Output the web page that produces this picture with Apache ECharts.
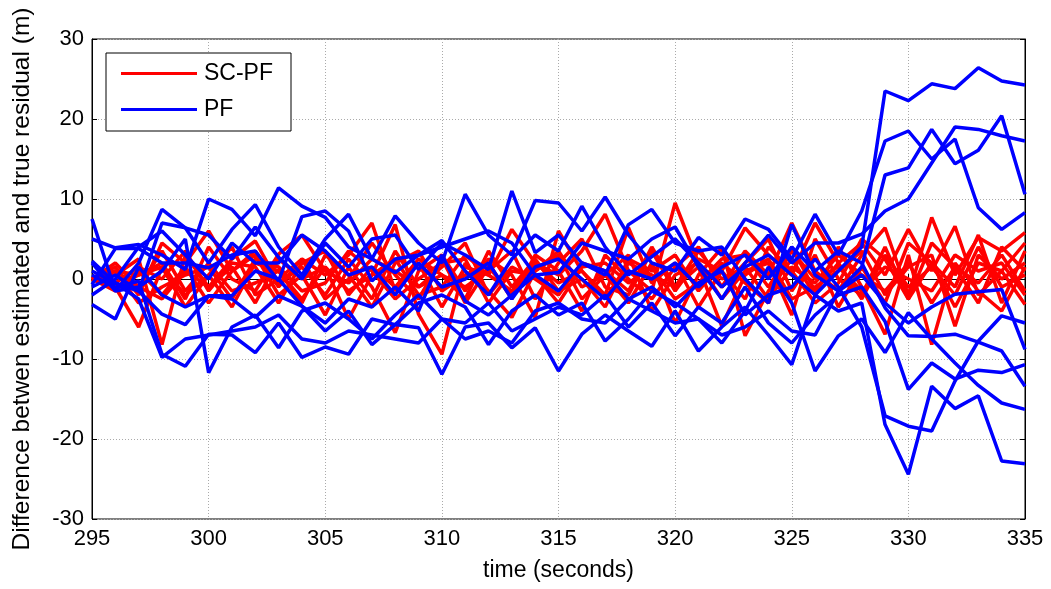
<!DOCTYPE html>
<html>
<head>
<meta charset="utf-8">
<script src="https://cdn.jsdelivr.net/npm/echarts@6/dist/echarts.min.js"></script>
<style>
html,body{margin:0;padding:0;background:#fff;}
#chart{width:1051px;height:589px;}
</style>
</head>
<body>
<div id="chart"></div>
<script>
// time axis (seconds)
const timeSec = [295,296,297,298,299,300,301,302,303,304,305,306,307,308,309,310,311,312,313,314,315,316,317,318,319,320,321,322,323,324,325,326,327,328,329,330,331,332,333,334,335];

// SC-PF runs (red)
const scpf01 = [0,1.5,-2.0,4.5,2.0,6.0,1.0,3.5,-1.0,2.5,0.5,3.0,7.0,-1.5,2.0,-3.5,1.5,0.5,6.2,2.0,0.5,3.5,8.1,1.0,-1.5,9.5,2.0,-1.0,3.5,0.5,7.0,1.0,-1.5,3.0,6.4,-2.0,7.7,0.5,5.2,3.5,5.8];
const scpf02 = [0,-1.0,-6.0,1.5,-2.0,0.5,-3.5,2.0,1.0,-2.5,1.5,-5.0,0.5,6.8,-4.4,-9.4,2.0,-1.5,-4.8,1.0,3.0,-2.5,0.5,-3.0,2.0,-5.5,0.5,3.9,-7.1,-1.5,2.5,-2.0,4.0,-1.0,-6.9,3.0,-8.2,2.0,-1.5,-4.0,1.5];
const scpf03 = [0,0.5,2.5,-8.2,3.0,-1.0,2.5,4.75,-0.5,1.5,-2.0,2.5,-1.0,-6.7,1.0,3.0,-1.5,2.5,0.5,-4.8,6.0,1.0,-2.0,6.4,-0.5,2.0,-3.5,1.0,6.4,3.0,0.5,7.0,2.0,4.5,0.5,6.2,1.0,6.6,-2.0,1.0,-3.2];
const scpf04 = [0,1.0,0.5,2.0,-2.5,4.0,0.0,-1.5,3.1,5.5,1.0,-0.5,2.5,1.0,-1.0,1.5,4.5,-2.0,1.5,0.0,-2.0,2.0,1.0,-1.5,4.0,-1.0,1.5,-5.9,0.5,2.5,-2.5,-1.0,1.0,3.5,-2.0,1.5,3.0,-5.9,3.0,0.0,2.0];
const scpf05 = [0,-1.5,1.0,-2.0,1.5,-3.0,1.0,3.0,-2.0,0.5,-4.5,1.5,-2.5,3.5,-1.0,0.5,-2.5,3.5,-1.0,2.5,-1.5,0.0,-3.5,2.5,1.0,3.0,-1.5,2.0,-0.5,-3.0,4.0,-1.5,2.0,-2.5,3.0,-1.0,1.5,-2.0,4.0,-1.0,0.5];
const scpf06 = [0,2.0,-1.0,3.5,-1.5,2.0,-1.5,-0.5,1.0,-3.0,3.0,0.5,-3.5,2.0,3.5,-1.5,0.5,2.0,-2.5,3.0,1.0,-4.0,3.0,0.0,-2.5,1.5,4.0,-1.0,2.0,5.0,-1.5,3.0,-3.5,1.5,-3.0,4.5,2.0,-1.0,5.5,-3.0,3.5];
const scpf07 = [0,-0.5,1.5,0.0,3.5,-1.5,2.0,1.5,-3.0,2.0,3.5,-2.0,1.5,-1.0,2.5,0.5,-1.0,1.0,3.5,-2.5,2.0,5.0,-1.0,-2.0,3.5,-1.5,2.5,1.0,-2.5,4.0,1.0,-3.0,-0.5,5.0,2.5,-2.5,4.5,1.5,-0.5,3.0,-1.5];
const scpf08 = [0,1.0,-3.0,-1.0,0.5,1.5,-2.5,2.5,1.5,-1.5,-0.5,3.5,1.0,-2.5,0.0,2.0,2.5,-3.0,1.0,0.5,-3.0,1.5,2.0,-0.5,1.5,-2.5,-0.5,2.5,3.0,-1.0,3.5,0.0,1.5,-1.5,1.5,0.0,-1.5,3.0,1.0,2.0,-2.0];
const scpf09 = [0,-1.0,0.5,1.5,-3.5,0.5,4.0,-2.0,0.0,2.5,-2.5,0.0,4.5,0.5,-2.5,2.5,-3.0,1.5,-2.0,1.0,3.5,-1.0,0.5,3.0,-4.0,0.5,2.0,-2.5,1.0,2.0,-4.5,5.0,0.0,-2.0,4.0,-2.5,2.0,-3.5,2.0,1.0,4.5];
const scpf10 = [0,0.5,-1.0,-2.5,1.0,-1.0,1.5,-3.0,2.5,0.0,1.5,-1.5,0.5,2.5,-2.0,-1.0,3.0,0.5,-1.5,2.0,-0.5,1.0,-2.5,2.0,0.5,-1.0,3.5,0.0,1.5,-2.5,1.5,-0.5,3.0,0.5,-1.5,2.0,-3.0,1.5,-3.0,4.0,1.0];

// PF runs (blue)
const pf01 = [7.5,-1.5,2.0,8.7,6.4,2.0,6.2,9.3,4.0,0.5,5.0,8.1,2.5,0.8,3.0,4.8,1.0,-2.0,2.5,5.5,3.5,9.1,4.0,0.5,2.8,5.0,2.0,-1.0,1.5,3.0,0.5,-2.0,1.0,4.0,23.5,22.3,24.4,23.8,26.4,24.75,24.25];
const pf02 = [5.0,3.9,4.3,3.0,1.2,10.0,8.7,5.4,11.4,9.1,7.7,4.0,2.5,7.9,4.5,2.0,10.6,5.5,3.0,9.8,9.5,6.0,10.25,5.5,2.0,1.0,5.2,3.0,7.5,6.2,2.5,8.1,3.0,8.5,17.25,18.5,15.0,17.5,8.9,6.2,8.3];
const pf03 = [2.25,-0.5,-1.5,7.0,6.4,5.5,2.5,6.5,2.7,0.0,4.5,1.5,5.0,5.5,1.2,4.5,3.0,1.2,11.0,3.3,5.5,2.0,0.5,6.8,8.7,4.5,3.5,4.0,0.0,-3.0,6.8,0.5,-1.5,1.5,13.0,13.9,18.7,14.4,16.1,20.4,10.6];
const pf04 = [-0.7,3.8,3.8,2.0,2.0,1.4,3.0,3.5,-0.25,7.8,8.5,6.0,-0.25,2.5,3.0,4.0,5.0,6.0,4.5,0.5,0.8,4.5,3.5,2.5,5.0,6.5,1.5,-2.5,2.0,5.5,2.0,4.5,4.5,5.6,8.5,10.0,14.5,19.0,18.7,17.9,17.25];
const pf05 = [-3.2,-5.0,1.5,-2.0,-3.5,-2.1,-2.1,1.0,0.0,-3.4,-5.5,-2.5,-3.5,-1.0,-4.0,3.0,-2.75,-4.5,-2.0,0.5,-1.5,2.0,1.0,-2.5,-1.0,-3.5,-0.5,1.0,-4.5,-2.0,-1.0,2.5,-1.0,-6.0,-17.1,-18.4,-19.0,-12.75,-7.75,-4.6,-5.5];
const pf06 = [0.5,-1.1,-0.25,-9.4,-10.9,-6.9,-7.0,-9.2,-5.5,-9.8,-8.5,-9.4,-5.0,-5.7,-6.1,-11.9,-6.0,-5.5,-8.6,-6.1,-11.5,-6.9,-4.5,-6.5,-8.4,-4.0,-9.0,-6.0,-3.5,-7.0,-10.7,-2.0,-4.0,-3.0,-18.2,-24.4,-13.4,-16.2,-14.6,-22.75,-23.1];
const pf07 = [-1.0,0.5,-1.5,-4.4,-5.7,-2.1,-2.5,-4.8,-2.1,-3.4,-6.5,-4.0,-8.2,-5.7,-3.0,-2.0,-3.5,-8.2,-4.0,-2.0,-4.5,-3.0,-7.75,-5.0,-1.5,-3.0,-5.0,-8.0,-4.0,1.5,-3.0,-11.5,-7.1,-5.0,-9.2,-4.2,-7.5,-10.5,-13.3,-15.5,-16.3];
const pf08 = [2.0,-1.5,-1.0,1.0,5.0,-11.7,-6.0,-4.5,-8.6,-4.0,-3.0,-5.0,-7.5,-4.5,-2.0,-5.0,-5.5,-3.0,-6.5,-5.0,-3.5,-4.5,-2.0,-6.0,-3.0,-7.1,-3.5,-5.5,-1.0,-5.5,-8.0,-4.5,-2.0,-1.0,-5.3,-13.8,-10.5,-12.5,-11.4,-11.7,-10.7];
const pf09 = [-2.0,0.0,4.0,6.0,3.0,0.0,4.5,2.0,2.0,5.5,3.5,0.5,1.5,-2.0,2.0,-1.0,0.0,2.0,-2.5,1.5,2.5,0.0,-2.5,1.0,0.0,2.0,-1.0,1.5,3.0,0.0,4.0,1.0,3.5,2.0,-3.6,-7.1,-7.2,-6.9,-7.9,-9.0,-13.4];
const pf10 = [1.0,-0.5,-2.5,-9.8,-7.5,-7.0,-6.5,-6.0,-4.5,-7.5,-8.0,-6.5,-7.0,-7.5,-8.0,-5.0,-7.5,-6.5,-8.0,-4.0,-3.0,-5.0,-5.5,-2.5,-4.0,-5.5,-5.0,-7.0,-6.0,-4.0,-6.5,-7.0,-1.5,0.5,-3.0,-5.5,-3.5,-1.9,-1.6,-1.3,-8.8];

const scpfRuns = [scpf01,scpf02,scpf03,scpf04,scpf05,scpf06,scpf07,scpf08,scpf09,scpf10];
const pfRuns = [pf01,pf02,pf03,pf04,pf05,pf06,pf07,pf08,pf09,pf10];

const FONT = 'Liberation Sans, Arial, Helvetica, sans-serif';
const RED = '#ff0000', BLUE = '#0000ff';

function pairs(vals){ return timeSec.map((t,i)=>[t, vals[i]]); }

const series = [];
scpfRuns.forEach(r => series.push({
  name:'SC-PF', type:'line', data:pairs(r), symbol:'none', xAxisIndex:0, yAxisIndex:0,
  lineStyle:{color:RED, width:3.5}, itemStyle:{color:RED}, z:2
}));
pfRuns.forEach(r => series.push({
  name:'PF', type:'line', data:pairs(r), symbol:'none', xAxisIndex:0, yAxisIndex:0,
  lineStyle:{color:BLUE, width:3.5}, itemStyle:{color:BLUE}, z:3
}));

const tickStyle = {show:true, inside:true, length:5, lineStyle:{color:'#000', width:1}};
const gridLine = {show:true, lineStyle:{color:'#aaaaaa', type:[1,2], width:1}};

const chart = echarts.init(document.getElementById('chart'), null, {renderer:'canvas'});
chart.setOption({
  animation:false,
  backgroundColor:'#fff',
  grid:{left:92, right:26, top:39, bottom:70, show:true, borderColor:'#000', borderWidth:1, backgroundColor:'transparent'},
  legend:{
    data:['SC-PF','PF'], orient:'vertical', left:106, top:53,
    icon:'rect', itemWidth:76, itemHeight:3, itemGap:13,
    padding:[9,18,10,15],
    backgroundColor:'#fff', borderColor:'#000', borderWidth:1,
    textStyle:{fontFamily:FONT, fontSize:23, color:'#000', padding:[0,0,0,2]},
    selectedMode:false
  },
  xAxis:[{
    type:'value', min:295, max:335, interval:5, position:'bottom',
    name:'time (seconds)', nameLocation:'middle', nameGap:40,
    nameTextStyle:{fontFamily:FONT, fontSize:23, color:'#000'},
    axisLine:{show:true, lineStyle:{color:'#000', width:1}},
    axisTick:tickStyle,
    axisLabel:{fontFamily:FONT, fontSize:22, color:'#000', margin:9},
    splitLine:gridLine
  },{
    type:'value', min:295, max:335, interval:5, position:'top',
    axisLine:{show:true, lineStyle:{color:'#000'}}, axisTick:tickStyle,
    axisLabel:{show:false}, splitLine:{show:false}
  }],
  yAxis:[{
    type:'value', min:-30, max:30, interval:10, position:'left',
    name:'Difference betwen estimated and true residual (m)', nameLocation:'middle', nameGap:57,
    nameTextStyle:{fontFamily:FONT, fontSize:24.5, color:'#000'},
    axisLine:{show:true, lineStyle:{color:'#000', width:1}},
    axisTick:tickStyle,
    axisLabel:{fontFamily:FONT, fontSize:22, color:'#000', margin:8},
    splitLine:gridLine
  },{
    type:'value', min:-30, max:30, interval:10, position:'right',
    axisLine:{show:true, lineStyle:{color:'#000'}}, axisTick:tickStyle,
    axisLabel:{show:false}, splitLine:{show:false}
  }],
  series:series
});
</script>
</body>
</html>
